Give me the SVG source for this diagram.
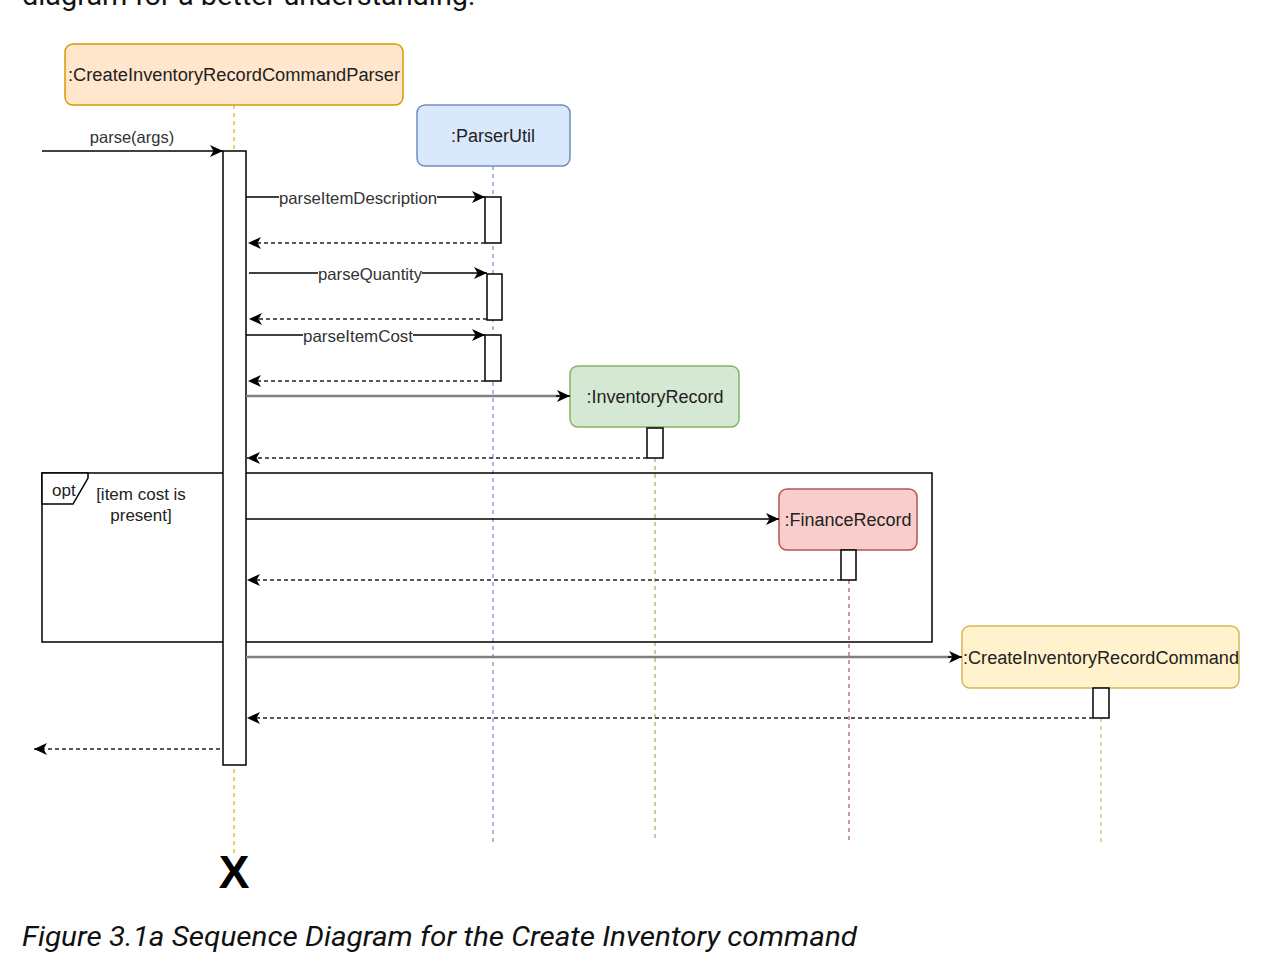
<svg xmlns="http://www.w3.org/2000/svg" width="1270" height="976" viewBox="0 0 1270 976">
<style>
  .node text, .lbl { font-family: "Liberation Sans", Arial, sans-serif; fill: #222; }
  .ntext { font-size: 18px; text-anchor: middle; }
  .msg { font-size: 16.5px; text-anchor: middle; fill: #333; }
  .bar { fill: #fff; stroke: #000; stroke-width: 1.5; }
  .call { stroke: #000; stroke-width: 1.5; fill: none; }
  .create { stroke: #808080; stroke-width: 2.5; fill: none; }
  .ret { stroke: #222; stroke-width: 1.3; stroke-dasharray: 4 3; fill: none; }
  .life { stroke-width: 1.2; stroke-dasharray: 4 4; fill: none; }
  .page { font-family: Roboto, "Liberation Sans", sans-serif; font-size: 27px; fill: #111; }
</style>
<defs>
  <marker id="arr" markerUnits="userSpaceOnUse" markerWidth="16" markerHeight="14" refX="13" refY="6" orient="auto">
    <path d="M0,0 L13,6 L0,12 L3.5,6 Z" fill="#000"/>
  </marker>
</defs>

<text class="page" x="22" y="5" textLength="453" lengthAdjust="spacingAndGlyphs">diagram for a better understanding:</text>

<!-- lifelines -->
<g id="lifelines">
  <line class="life" x1="234" y1="105" x2="234" y2="855" stroke="#e6a817"/>
  <line class="life" x1="493" y1="166" x2="493" y2="842" stroke="#6c8ebf"/>
  <line class="life" x1="655" y1="458" x2="655" y2="842" stroke="#82b366"/>
  <line class="life" x1="849" y1="580" x2="849" y2="842" stroke="#b85450"/>
  <line class="life" x1="1101" y1="718" x2="1101" y2="842" stroke="#d6b656"/>
</g>

<!-- opt frame -->
<g id="opt-frame">
  <rect x="42" y="473" width="890" height="169" fill="none" stroke="#000" stroke-width="1.5"/>
  <polygon points="42,473 88,473 88,478 73,504 42,504" fill="#fff" stroke="#000" stroke-width="1.5"/>
  <text class="lbl" x="52" y="496" font-size="17" fill="#333">opt</text>
  <text class="lbl" x="141" y="500" font-size="17" text-anchor="middle" fill="#333">[item cost is</text>
  <text class="lbl" x="141" y="521" font-size="17" text-anchor="middle" fill="#333">present]</text>
</g>

<!-- nodes -->
<g id="parser" class="node">
  <rect x="65" y="44" width="338" height="61" rx="8" fill="#ffe6cc" stroke="#d79b00" stroke-width="1.5"/>
  <text class="ntext" x="234" y="81" textLength="332" lengthAdjust="spacingAndGlyphs">:CreateInventoryRecordCommandParser</text>
  <rect class="bar" x="223" y="151" width="23" height="614"/>
</g>
<g id="parserutil" class="node">
  <rect x="417" y="105" width="153" height="61" rx="8" fill="#dae8fc" stroke="#6c8ebf" stroke-width="1.5"/>
  <text class="ntext" x="493" y="142">:ParserUtil</text>
  <rect class="bar" x="485" y="197" width="16" height="46"/>
  <rect class="bar" x="487" y="274" width="15" height="46"/>
  <rect class="bar" x="485" y="335" width="16" height="46"/>
</g>
<g id="inventoryrecord" class="node">
  <rect x="570" y="366" width="169" height="61" rx="8" fill="#d5e8d4" stroke="#82b366" stroke-width="1.5"/>
  <text class="ntext" x="655" y="403">:InventoryRecord</text>
  <rect class="bar" x="647" y="428" width="16" height="30"/>
</g>
<g id="financerecord" class="node">
  <rect x="779" y="489" width="138" height="61" rx="8" fill="#f8cecc" stroke="#b85450" stroke-width="1.5"/>
  <text class="ntext" x="848" y="526">:FinanceRecord</text>
  <rect class="bar" x="841" y="550" width="15" height="30"/>
</g>
<g id="createcommand" class="node">
  <rect x="962" y="626" width="277" height="62" rx="8" fill="#fff2cc" stroke="#d6b656" stroke-width="1.5"/>
  <text class="ntext" x="1101" y="664" textLength="276" lengthAdjust="spacingAndGlyphs">:CreateInventoryRecordCommand</text>
  <rect class="bar" x="1093" y="688" width="16" height="30"/>
</g>

<!-- connectors -->
<g id="connectors">
  <line class="call" x1="42" y1="151" x2="223" y2="151" marker-end="url(#arr)"/>
  <text class="lbl msg" x="132" y="143">parse(args)</text>

  <line class="call" x1="246" y1="197" x2="485" y2="197" marker-end="url(#arr)"/>
  <rect x="279" y="190" width="158" height="15" fill="#fff"/>
  <text class="lbl msg" x="358" y="204" textLength="158" lengthAdjust="spacingAndGlyphs">parseItemDescription</text>
  <line class="ret" x1="485" y1="243" x2="248" y2="243" marker-end="url(#arr)"/>

  <line class="call" x1="249" y1="273" x2="487" y2="273" marker-end="url(#arr)"/>
  <rect x="318" y="266" width="104" height="15" fill="#fff"/>
  <text class="lbl msg" x="370" y="280" textLength="104" lengthAdjust="spacingAndGlyphs">parseQuantity</text>
  <line class="ret" x1="487" y1="319" x2="249" y2="319" marker-end="url(#arr)"/>

  <line class="call" x1="246" y1="335" x2="485" y2="335" marker-end="url(#arr)"/>
  <rect x="303" y="328" width="110" height="15" fill="#fff"/>
  <text class="lbl msg" x="358" y="342" textLength="110" lengthAdjust="spacingAndGlyphs">parseItemCost</text>
  <line class="ret" x1="485" y1="381" x2="248" y2="381" marker-end="url(#arr)"/>

  <line class="create" x1="246" y1="396" x2="566" y2="396"/>
  <line class="call" x1="556" y1="396" x2="570" y2="396" marker-end="url(#arr)"/>
  <line class="ret" x1="647" y1="458" x2="247" y2="458" marker-end="url(#arr)"/>

  <line class="call" x1="246" y1="519" x2="779" y2="519" marker-end="url(#arr)"/>
  <line class="ret" x1="841" y1="580" x2="247" y2="580" marker-end="url(#arr)"/>

  <line class="create" x1="246" y1="657" x2="958" y2="657"/>
  <line class="call" x1="948" y1="657" x2="962" y2="657" marker-end="url(#arr)"/>
  <line class="ret" x1="1093" y1="718" x2="247" y2="718" stroke="#444" marker-end="url(#arr)"/>

  <line class="ret" x1="220" y1="749" x2="34" y2="749" marker-end="url(#arr)"/>
</g>

<text x="234" y="888" font-family="Liberation Sans, Arial, sans-serif" font-weight="bold" font-size="46" text-anchor="middle" fill="#000">X</text>

<text class="page" x="22" y="946" font-style="italic" textLength="835" lengthAdjust="spacingAndGlyphs">Figure 3.1a Sequence Diagram for the Create Inventory command</text>
</svg>
